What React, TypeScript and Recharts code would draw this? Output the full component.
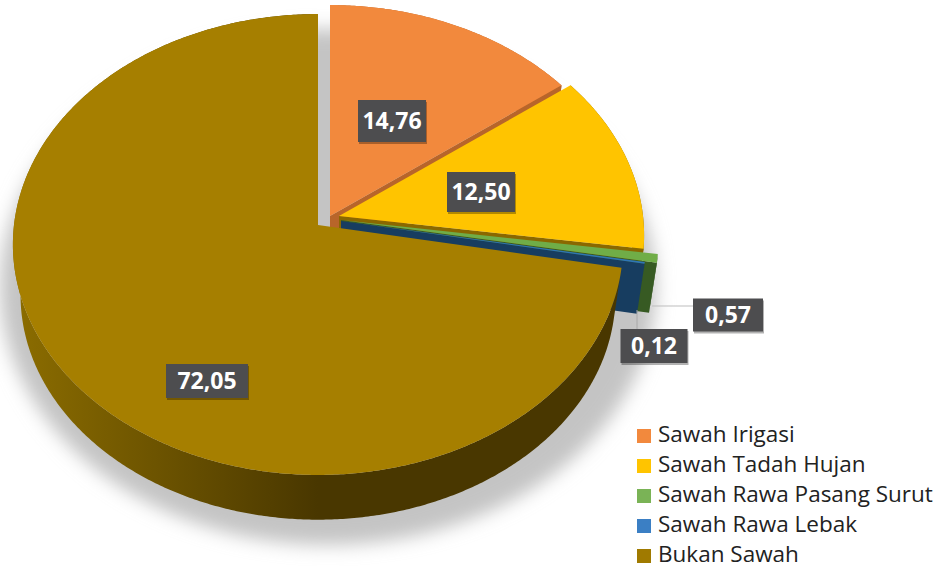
import React from "react";
import { PieChart, Pie, Legend } from "recharts";

const names = ["Sawah Irigasi", "Sawah Tadah Hujan", "Sawah Rawa Pasang Surut", "Sawah Rawa Lebak", "Bukan Sawah"];
const values = [14.76, 12.5, 0.57, 0.12, 72.05];
const faceColors = ["#f2893d", "#ffc400", "#70ad47", "#2e75b6", "#a67f00"];
const legendColors = ["#f2893d", "#ffc400", "#7ab356", "#3b7fc4", "#a07a00"];
const wallColors = ["#b8652a", "#8a6800", "#375a23", "#173d60", "url(#brownWall)"];

// Each slice is pulled out of the disc by its own offset, in pixels from the pie centre.
const explodeX = [12, 21, 23, 23, 0];
const explodeY = [-9, -9, -5, -4, 0];
const sliceScale = [1, 1, 1.04, 1, 1];

// Value boxes: centre x, centre y, width, height.
const boxX = [392, 481, 207, 728, 654];
const boxY = [121, 192, 381, 315, 346];
const boxW = [68, 68, 82, 70, 67];
const boxH = [42, 40, 34, 33, 34];
const boxSlice = [0, 1, 4, 2, 3];

const PIE_X = 318;
const PIE_Y = 225;
const RADIUS = 304;
const TILT = 0.7526;
const PERSPECTIVE = 0.0846;
const DEPTH = 51;
const DEPTH_SCALE = 0.975;

const chartData = names.map((name, i) => ({ name, value: values[i], fill: faceColors[i] }));

type Pt = [number, number];

// Projects a point of the tilted disc; the far side comes out smaller than the near side.
function project(deg: number, ox: number, oy: number, r: number): Pt {
  const a = (deg * Math.PI) / 180;
  const px = Math.cos(a);
  const py = Math.sin(a);
  const d = 1 + PERSPECTIVE * py;
  return [ox + (r * px) / d, oy - (r * TILT * py) / d];
}

function arcPoints(start: number, end: number, ox: number, oy: number, r: number): Pt[] {
  const steps = Math.max(2, Math.ceil(Math.abs(end - start) * 2));
  const out: Pt[] = [];
  for (let i = 0; i <= steps; i++) out.push(project(start + ((end - start) * i) / steps, ox, oy, r));
  return out;
}

const toPath = (pts: Pt[]) => "M" + pts.map((p) => `${p[0].toFixed(2)},${p[1].toFixed(2)}`).join("L") + "Z";

function Slice3D(props: any) {
  const { cx, cy, outerRadius, startAngle, endAngle, fill, index } = props;
  const ox = cx + explodeX[index];
  const oy = cy + explodeY[index];
  const r = outerRadius * sliceScale[index];
  const bx = ox;
  const by = oy + DEPTH;
  const rb = r * DEPTH_SCALE;

  const top = arcPoints(startAngle, endAngle, ox, oy, r);
  const bottom = arcPoints(startAngle, endAngle, bx, by, rb);
  const topEnd = top[top.length - 1];
  const bottomEnd = bottom[bottom.length - 1];
  const wall = wallColors[index];

  return (
    <g>
      {index === 0 && (
        <>
          <defs>
            <filter id="discShadow" x="-20%" y="-20%" width="140%" height="140%">
              <feGaussianBlur stdDeviation="9" />
            </filter>
            <linearGradient id="brownWall" gradientUnits="userSpaceOnUse" x1="13" y1="0" x2="318" y2="0">
              <stop offset="0" stopColor="#8c6d00" />
              <stop offset="1" stopColor="#493700" />
            </linearGradient>
          </defs>
          <ellipse
            cx={cx + 10}
            cy={cy + 62}
            rx={outerRadius + 24}
            ry={258}
            fill="#c4c4c4"
            filter="url(#discShadow)"
          />
        </>
      )}
      <path d={toPath([...top, ...bottom.slice().reverse()])} fill={wall} />
      <path d={toPath([[ox, oy], topEnd, bottomEnd, [bx, by]])} fill={wall} />
      <path d={toPath([[ox, oy], ...top])} fill={fill} />
    </g>
  );
}

function ValueBox(props: any) {
  const i = props.index;
  const slot = boxSlice.indexOf(i);
  const x = boxX[slot];
  const y = boxY[slot];
  const w = boxW[slot];
  const h = boxH[slot];
  const text = values[i].toFixed(2).replace(".", ",");
  return (
    <g>
      {i === 2 && <path d={`M652,306H${x - w / 2}`} stroke="#bdbdbd" strokeWidth={1} fill="none" />}
      {i === 3 && <path d={`M637,310V${y - h / 2}`} stroke="#a8a8a8" strokeWidth={1} fill="none" />}
      <rect x={x - w / 2 + 1} y={y - h / 2 + 2} width={w} height={h} fill="#000" opacity={0.3} />
      <rect x={x - w / 2} y={y - h / 2} width={w} height={h} fill="#4d4d4f" />
      <text
        x={x}
        y={y + 8}
        textAnchor="middle"
        fill="#fff"
        fontFamily="'Open Sans', sans-serif"
        fontWeight={700}
        fontSize={23}
      >
        {text}
      </text>
    </g>
  );
}

function LegendList() {
  return (
    <div style={{ fontFamily: "'Open Sans', sans-serif", fontSize: 22.5, color: "#222", lineHeight: 1 }}>
      {names.map((name, i) => (
        <div key={name} style={{ display: "flex", alignItems: "center", height: 30, whiteSpace: "nowrap" }}>
          <span style={{ width: 14, height: 14, background: legendColors[i], marginRight: 7, flex: "none" }} />
          <span style={{ position: "relative", top: -2 }}>{name}</span>
        </div>
      ))}
    </div>
  );
}

export default function App() {
  return (
    <div style={{ position: "fixed", left: 0, top: 0, width: 945, height: 566, overflow: "hidden", background: "#fff" }}>
      <PieChart width={945} height={566} margin={{ top: 0, right: 0, bottom: 0, left: 0 }}>
        <Pie
          data={chartData}
          dataKey="value"
          nameKey="name"
          cx={PIE_X}
          cy={PIE_Y}
          outerRadius={RADIUS}
          startAngle={90}
          endAngle={-270}
          stroke="none"
          shape={Slice3D}
          label={ValueBox}
          labelLine={false}
          rootTabIndex={-1}
          isAnimationActive={false}
        />
        <Legend
          content={LegendList}
          layout="vertical"
          wrapperStyle={{ position: "absolute", left: 637, top: 421, width: 308, bottom: "auto", right: "auto" }}
        />
      </PieChart>
    </div>
  );
}
